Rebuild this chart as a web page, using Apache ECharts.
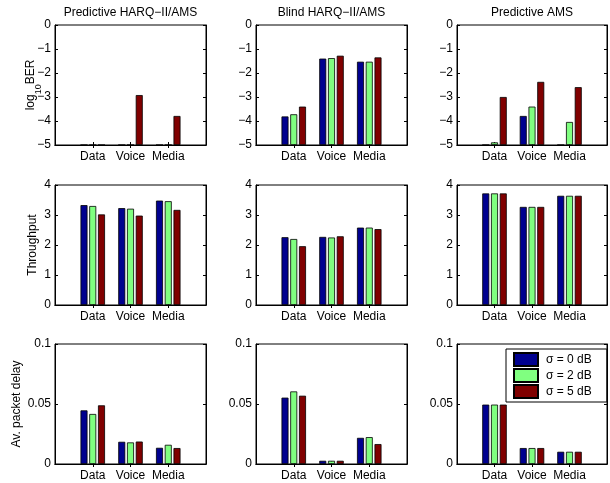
<!DOCTYPE html>
<html><head><meta charset="utf-8">
<script src="https://cdn.jsdelivr.net/npm/echarts@6/dist/echarts.min.js"></script>
<style>html,body{margin:0;padding:0;background:#fff}#c{width:610px;height:483px}</style>
</head><body><div id="c"></div>
<script>
const categories = ['Data', 'Voice', 'Media'];
const schemes = ['Predictive HARQ\u2212II/AMS', 'Blind HARQ\u2212II/AMS', 'Predictive AMS'];
const sigmaNames = ['\u03c3 = 0 dB', '\u03c3 = 2 dB', '\u03c3 = 5 dB'];
const colors = ['#00008F', '#80FF80', '#800000'];

// log10 BER per scheme: [sigma0, sigma2, sigma5], each over Data/Voice/Media
const berPredHarq = [[-5, -5, -5], [-5, -5, -5], [-5, -2.92, -3.79]];
const berBlind = [[-3.81, -1.40, -1.53], [-3.72, -1.38, -1.53], [-3.40, -1.28, -1.35]];
const berPredAms = [[-5, -3.79, -5], [-4.89, -3.40, -4.04], [-3.00, -2.37, -2.59]];

// Throughput
const thrPredHarq = [[3.33, 3.23, 3.48], [3.30, 3.21, 3.46], [3.02, 2.98, 3.17]];
const thrBlind = [[2.26, 2.27, 2.58], [2.20, 2.25, 2.58], [1.96, 2.29, 2.53]];
const thrPredAms = [[3.72, 3.27, 3.64], [3.72, 3.27, 3.64], [3.72, 3.27, 3.64]];

// Average packet delay
const delPredHarq = [[0.0447, 0.0185, 0.0135], [0.0417, 0.0180, 0.0160], [0.0489, 0.0187, 0.0133]];
const delBlind = [[0.0553, 0.0027, 0.0218], [0.0605, 0.0027, 0.0224], [0.0569, 0.0027, 0.0166]];
const delPredAms = [[0.0495, 0.0133, 0.0102], [0.0495, 0.0133, 0.0102], [0.0495, 0.0133, 0.0102]];

const berTicks = ['0', '\u22121', '\u22122', '\u22123', '\u22124', '\u22125'];
const delayTicks = ['0', '0.05', '0.1'];

const FONT = 'Liberation Sans, Arial, Helvetica, sans-serif';
const lefts = [55, 256, 457];
const tops = [25, 185, 344];
const W = 151, H = 120;

const rows = [
  { data: [berPredHarq, berBlind, berPredAms], min: 0, max: 5, interval: 1, base: 5,
    fmt: v => berTicks[5 - Math.round(v)], name: 'log{sub|10}BER', nameGap: 18 },
  { data: [thrPredHarq, thrBlind, thrPredAms], min: 0, max: 4, interval: 1, base: 0,
    fmt: v => String(v), name: 'Throughput', nameGap: 16 },
  { data: [delPredHarq, delBlind, delPredAms], min: 0, max: 0.1, interval: 0.05, base: 0,
    fmt: v => delayTicks[Math.round(v / 0.05)], name: 'Av. packet delay', nameGap: 32 }
];

const axisCats = [''].concat(categories, ['']);
const grid = [], xAxis = [], yAxis = [], series = [];
const lineStyle = { color: '#000', width: 1 };
const tickIdx = (i) => i > 0 && i < axisCats.length - 1;

rows.forEach((row, r) => {
  row.data.forEach((panel, c) => {
    const g = grid.length;
    grid.push({ left: lefts[c], top: tops[r], width: W, height: H, show: true,
      borderColor: '#000', borderWidth: 1, backgroundColor: '#fff' });
    const xi = xAxis.length;
    xAxis.push({ type: 'category', gridIndex: g, data: axisCats, boundaryGap: false,
      axisLine: { show: true, lineStyle }, axisTick: { inside: true, length: 3, lineStyle, interval: tickIdx },
      axisLabel: { margin: 6, color: '#000', fontSize: 12, fontFamily: FONT, interval: 0 },
      splitLine: { show: false } });
    xAxis.push({ type: 'category', gridIndex: g, data: axisCats, boundaryGap: false, position: 'top',
      axisLine: { show: true, lineStyle }, axisTick: { inside: true, length: 3, lineStyle, interval: tickIdx },
      axisLabel: { show: false }, splitLine: { show: false },
      name: r === 0 ? schemes[c] : '', nameLocation: 'middle', nameGap: 6, nameMoveOverlap: false,
      nameTextStyle: { color: '#000', fontSize: 12, fontFamily: FONT } });
    const yi = yAxis.length;
    yAxis.push({ type: 'value', gridIndex: g, min: row.min, max: row.max, interval: row.interval,
      axisLine: { show: true, lineStyle }, axisTick: { show: true, inside: true, length: 3, lineStyle },
      axisLabel: { margin: 4, color: '#000', fontSize: 12, fontFamily: FONT, formatter: row.fmt },
      splitLine: { show: false },
      name: c === 0 ? row.name : '', nameLocation: 'middle', nameGap: row.nameGap, nameMoveOverlap: false,
      nameTextStyle: { color: '#000', fontSize: 12, fontFamily: FONT,
        rich: { sub: { fontSize: 9, verticalAlign: 'bottom', padding: [0, 0, -6, 0], fontFamily: FONT, color: '#000' } } } });
    yAxis.push({ type: 'value', gridIndex: g, min: row.min, max: row.max, interval: row.interval, position: 'right',
      axisLine: { show: true, lineStyle }, axisTick: { show: true, inside: true, length: 3, lineStyle },
      axisLabel: { show: false }, splitLine: { show: false } });
    panel.forEach((vals, s) => {
      series.push({ type: 'bar', name: sigmaNames[s], xAxisIndex: xi, yAxisIndex: yi,
        barWidth: 7, barGap: '25%',
        itemStyle: { color: colors[s], borderColor: '#000', borderWidth: 0.8 },
        data: [null].concat(vals.map(v => +(v + row.base).toFixed(4)), [null]),
        animation: false, silent: true });
    });
  });
});

const chart = echarts.init(document.getElementById('c'), null, { renderer: 'canvas' });
chart.setOption({
  backgroundColor: '#fff',
  animation: false,
  grid, xAxis, yAxis, series,
  legend: { data: sigmaNames, orient: 'vertical', left: 506, top: 349, itemWidth: 24, itemHeight: 13,
    itemGap: 1, padding: [3, 15, 3, 7], backgroundColor: '#fff', borderColor: '#000', borderWidth: 1,
    borderRadius: 0, icon: 'rect',
    textStyle: { color: '#000', fontSize: 12, fontFamily: FONT, lineHeight: 13, padding: [0, 0, 0, 3] },
    selectedMode: false, z: 10 }
});
</script></body></html>
